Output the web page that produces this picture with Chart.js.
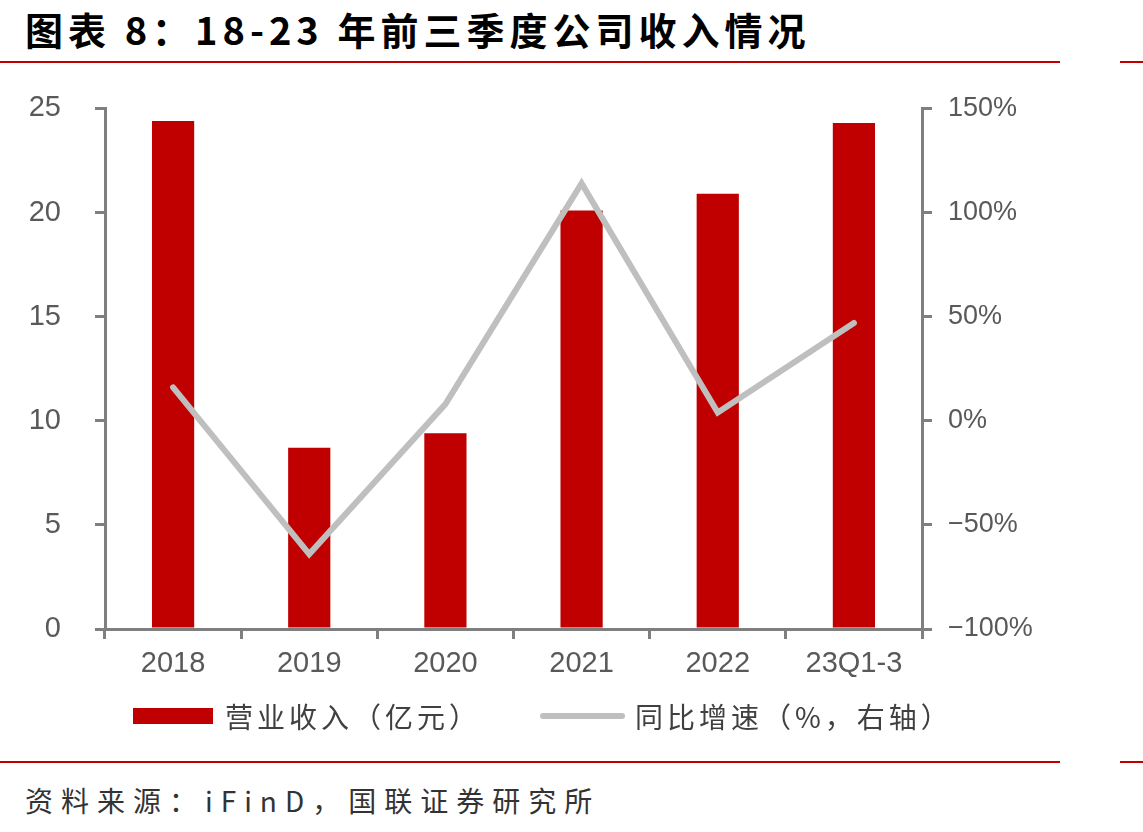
<!DOCTYPE html>
<html>
<head>
<meta charset="utf-8">
<script src="https://cdn.jsdelivr.net/npm/chart.js@4"></script>
<style>
  body { margin: 0; width: 1143px; height: 832px; background: #fff; position: relative; overflow: hidden; }
  .abs { position: absolute; }
  #title { left: 25px; top: 8px; font: 700 38px "Noto Sans CJK SC", sans-serif; line-height: 42px; color: #000; letter-spacing: 5px; white-space: nowrap; }
  .red { background: #c00000; height: 2px; }
  #source { left: 25px; top: 780px; font: 28px "Noto Sans CJK SC", sans-serif; line-height: 40px; color: #333; letter-spacing: 8px; white-space: nowrap; }
  .legtext { font: 28px "Noto Sans CJK SC", sans-serif; line-height: 36px; color: #404040; letter-spacing: 4px; white-space: nowrap; }
  #wrap { left: 0; top: 57px; width: 1143px; height: 643px; }
</style>
</head>
<body>
<div id="title" class="abs">图表 8：18-23 年前三季度公司收入情况</div>
<div class="abs red" style="left:0;top:61px;width:1060px"></div>
<div class="abs red" style="left:1120px;top:61px;width:23px"></div>

<div id="wrap" class="abs"><canvas id="chart"></canvas></div>

<div class="abs" style="left:133px;top:708px;width:80px;height:16px;background:#c00000"></div>
<div class="abs legtext" style="left:225px;top:698px">营业收入（亿元）</div>
<div class="abs" style="left:540px;top:713px;width:85px;height:6px;border-radius:3px;background:#bfbfbf"></div>
<div class="abs legtext" style="left:635px;top:698px">同比增速（%，右轴）</div>

<div class="abs red" style="left:0;top:761px;width:1060px"></div>
<div class="abs red" style="left:1120px;top:761px;width:23px"></div>
<div id="source" class="abs">资料来源：iFinD，国联证券研究所</div>

<script>
// data
const categories = ["2018", "2019", "2020", "2021", "2022", "23Q1-3"];
const revenue = [24.4, 8.7, 9.4, 20.1, 20.9, 24.3];   // 营业收入（亿元）
const growth = [16, -64, 8, 114, 4, 47];              // 同比增速（%）
const leftTicks = [0, 5, 10, 15, 20, 25];
const rightTicks = [-100, -50, 0, 50, 100, 150];

const axisGray = "#7f7f7f";
const fam = "'Liberation Sans Narrow', 'Liberation Sans', sans-serif";

const ctx = document.getElementById("chart").getContext("2d");
new Chart(ctx, {
  data: {
    labels: categories,
    datasets: [
      {
        type: "line",
        label: "同比增速（%，右轴）",
        data: growth,
        yAxisID: "y1",
        borderColor: "#bfbfbf",
        borderWidth: 6,
        borderCapStyle: "round",
        pointRadius: 0,
        tension: 0,
        order: 0
      },
      {
        type: "bar",
        label: "营业收入（亿元）",
        data: revenue,
        yAxisID: "y",
        backgroundColor: "#c00000",
        barPercentage: 0.31,
        categoryPercentage: 1,
        order: 1
      }
    ]
  },
  options: {
    responsive: true,
    maintainAspectRatio: false,
    animation: false,
    layout: { padding: { top: 41, left: 0, right: 0, bottom: 0 } },
    plugins: {
      legend: { display: false },
      tooltip: { enabled: false }
    },
    scales: {
      x: {
        grid: { drawOnChartArea: false, color: axisGray, lineWidth: 3, tickLength: 10, offset: true },
        border: { color: axisGray, width: 3 },
        ticks: { color: "#595959", font: { family: fam, size: 29 }, padding: 8 },
        afterFit: s => { s.height = 71; }
      },
      y: {
        position: "left",
        min: 0,
        max: 25,
        afterBuildTicks: s => { s.ticks = leftTicks.map(v => ({ value: v })); },
        grid: { drawOnChartArea: false, color: axisGray, lineWidth: 3, tickLength: 10 },
        border: { color: axisGray, width: 3 },
        ticks: { color: "#595959", font: { family: fam, size: 29 }, padding: 34 },
        afterFit: s => { s.width = 105; }
      },
      y1: {
        position: "right",
        min: -100,
        max: 150,
        afterBuildTicks: s => { s.ticks = rightTicks.map(v => ({ value: v })); },
        grid: { drawOnChartArea: false, color: axisGray, lineWidth: 3, tickLength: 10 },
        border: { color: axisGray, width: 3 },
        ticks: {
          color: "#595959",
          font: { family: fam, size: 27 },
          padding: 16,
          callback: v => (v < 0 ? "−" + Math.abs(v) : v) + "%"
        },
        afterFit: s => { s.width = 221; }
      }
    }
  }
});
</script>
</body>
</html>
